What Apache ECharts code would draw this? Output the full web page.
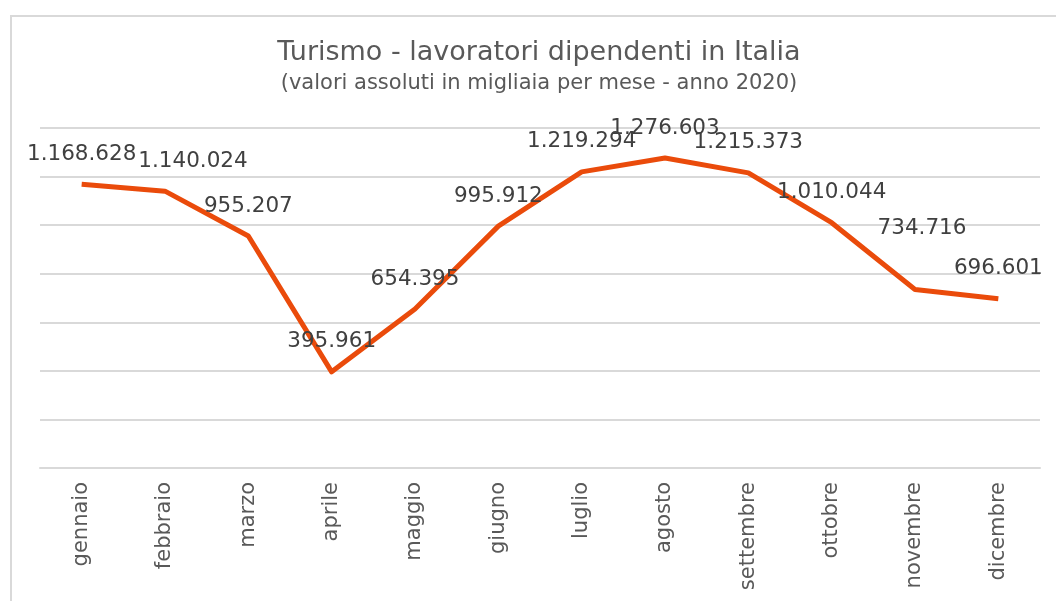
<!DOCTYPE html>
<html>
<head>
<meta charset="utf-8">
<script src="https://cdn.jsdelivr.net/npm/echarts@6/dist/echarts.min.js"></script>
<style>
  html, body { margin: 0; padding: 0; background: #fff; }
  #frame { position: absolute; left: 10px; top: 15px; width: 1100px; height: 650px;
           border-left: 2px solid #d9d9d9; border-top: 2px solid #d9d9d9; }
  #chart { position: absolute; left: 0; top: 0; width: 1056px; height: 601px; }
</style>
</head>
<body>
<div id="frame"></div>
<div id="chart"></div>
<script>
// mesi 2020
var months = ['gennaio', 'febbraio', 'marzo', 'aprile', 'maggio', 'giugno',
              'luglio', 'agosto', 'settembre', 'ottobre', 'novembre', 'dicembre'];
// lavoratori dipendenti (migliaia)
var workers = [1168.628, 1140.024, 955.207, 395.961, 654.395, 995.912,
               1219.294, 1276.603, 1215.373, 1010.044, 734.716, 696.601];
var yMin = 0, yMax = 1400, yStep = 200;

// piccoli spostamenti delle etichette come nell'originale
var labelShift = { 1: [28, 0], 10: [7, -31] };

function fmt(v) {
    var s = String(Math.round(v * 1000));
    return s.replace(/\B(?=(\d{3})+(?!\d))/g, '.');
}

var seriesData = workers.map(function(v, i) {
    var item = { value: v };
    if (labelShift[i]) item.label = { offset: labelShift[i] };
    return item;
});

var option = {
    animation: false,
    title: {
        text: 'Turismo - lavoratori dipendenti in Italia',
        subtext: '(valori assoluti in migliaia per mese - anno 2020)',
        left: 534,
        textAlign: 'center',
        top: 34,
        itemGap: 7,
        textStyle: { fontFamily: 'DejaVu Sans', fontSize: 27, fontWeight: 'normal', color: '#595959' },
        subtextStyle: { fontFamily: 'DejaVu Sans', fontSize: 21, color: '#595959' }
    },
    grid: { left: 40, right: 16, top: 128, bottom: 133 },
    xAxis: {
        type: 'category',
        data: months,
        axisLine: { lineStyle: { color: '#d9d9d9', width: 2 } },
        axisTick: { show: false },
        axisLabel: {
            rotate: 90, margin: 14, interval: 0,
            fontFamily: 'DejaVu Sans', fontSize: 21, color: '#595959'
        }
    },
    yAxis: {
        type: 'value',
        min: yMin, max: yMax, interval: yStep,
        axisLabel: { show: false },
        axisLine: { show: false },
        axisTick: { show: false },
        splitLine: { lineStyle: { color: '#d9d9d9', width: 2 } }
    },
    series: [{
        type: 'line',
        data: seriesData,
        symbol: 'circle',
        symbolSize: 0,
        showSymbol: true,
        lineStyle: { color: '#ea4b0b', width: 5, join: 'round' },
        itemStyle: { color: '#ea4b0b' },
        label: {
            show: true,
            position: 'top',
            distance: 19,
            fontFamily: 'DejaVu Sans',
            fontSize: 21.5,
            color: '#404040',
            formatter: function(p) { return fmt(p.value); }
        }
    }]
};

var myChart = echarts.init(document.getElementById('chart'));
myChart.setOption(option);
</script>
</body>
</html>
